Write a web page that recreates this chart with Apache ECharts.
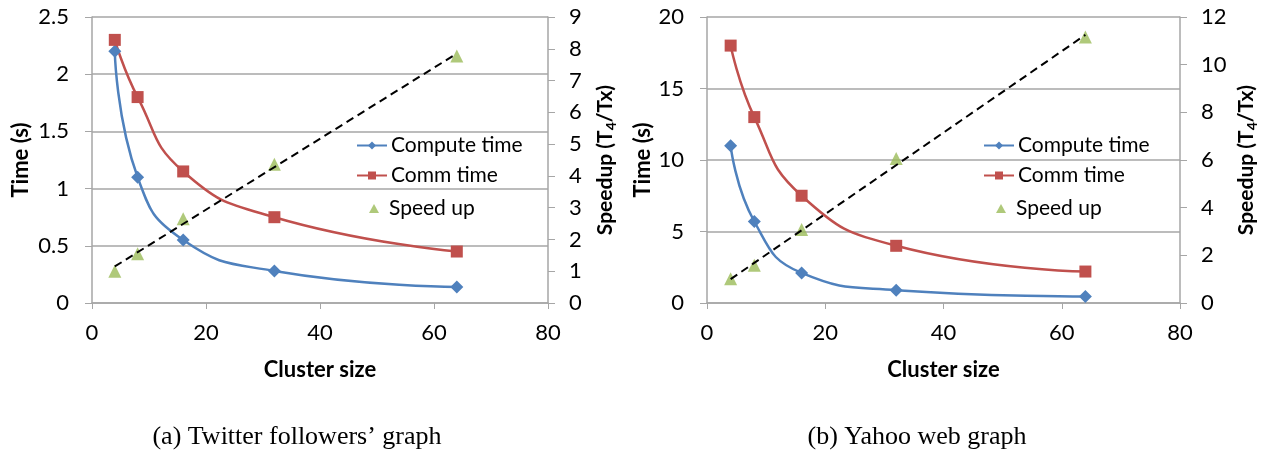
<!DOCTYPE html>
<html>
<head>
<meta charset="utf-8">
<script src="https://cdn.jsdelivr.net/npm/echarts@6/dist/echarts.min.js"></script>
<style>
  html, body { margin: 0; padding: 0; background: #fff; }
  #main { width: 1264px; height: 451px; }
</style>
</head>
<body>
<div id="main"></div>
<script>
// cluster sizes (x)
var clusterSizes = [4, 8, 16, 32, 64];

// (a) Twitter followers' graph
var twComputeTime = [2.2, 1.1, 0.55, 0.28, 0.14];
var twCommTime = [2.3, 1.8, 1.15, 0.75, 0.45];
var twSpeedup = [1.0, 1.55, 2.65, 4.37, 7.77];
var twTrendX = [4, 64];
var twTrend = [1.15, 7.85];

// (b) Yahoo web graph
var yhComputeTime = [11, 5.7, 2.1, 0.9, 0.45];
var yhCommTime = [18, 13, 7.5, 4, 2.2];
var yhSpeedup = [1.02, 1.58, 3.08, 6.06, 11.16];
var yhTrendX = [4, 64];
var yhTrend = [1.0, 11.25];

var captions = ["(a) Twitter followers\u2019 graph", "(b) Yahoo web graph"];

var FONT = 'Lato';
var AXIS_COLOR = '#a6a6a6';
var BLUE = '#4f81bd', RED = '#c0504d', GREEN = '#9bbb59';

function pairs(xs, ys) {
  return xs.map(function (x, i) { return [x, ys[i]]; });
}

function xAxisOpt(idx) {
  return {
    type: 'value', gridIndex: idx, min: 0, max: 80, interval: 20,
    name: 'Cluster size', nameLocation: 'middle', nameGap: 56,
    nameTextStyle: { fontFamily: FONT, fontWeight: 'bold', fontSize: 22, color: '#000' },
    axisLine: { lineStyle: { color: AXIS_COLOR, width: 1.5 } },
    axisTick: { show: true, length: 6, lineStyle: { color: AXIS_COLOR } },
    axisLabel: { fontFamily: FONT, fontSize: 22, color: '#000', margin: 19 },
    splitLine: { show: false }
  };
}

function yLeftOpt(idx, max, interval, gap) {
  return {
    type: 'value', gridIndex: idx, position: 'left', min: 0, max: max, interval: interval,
    name: 'Time (s)', nameLocation: 'middle', nameGap: gap, nameRotate: 90,
    nameTextStyle: { fontFamily: FONT, fontWeight: 'bold', fontSize: 22, color: '#000' },
    axisLine: { show: true, lineStyle: { color: AXIS_COLOR, width: 1.5 } },
    axisTick: { show: true, length: 7, lineStyle: { color: AXIS_COLOR } },
    axisLabel: { fontFamily: FONT, fontSize: 22, color: '#000', margin: 23 },
    splitLine: { show: true, lineStyle: { color: AXIS_COLOR, width: 1.5 } }
  };
}

function yRightOpt(idx, max, interval, gap) {
  return {
    type: 'value', gridIndex: idx, position: 'right', min: 0, max: max, interval: interval,
    name: '{a|Speedup (T}{s|4}{a|/Tx)}', nameLocation: 'middle', nameGap: gap, nameRotate: 90,
    nameTextStyle: {
      rich: {
        a: { fontFamily: FONT, fontWeight: 'bold', fontSize: 21, color: '#000' },
        s: { fontFamily: FONT, fontWeight: 'bold', fontSize: 14, color: '#000', verticalAlign: 'bottom', padding: [11, 0, 0, 0] }
      }
    },
    axisLine: { show: true, lineStyle: { color: AXIS_COLOR, width: 1.5 } },
    axisTick: { show: true, length: 7, lineStyle: { color: AXIS_COLOR } },
    axisLabel: { fontFamily: FONT, fontSize: 22, color: '#000', margin: 21 },
    splitLine: { show: false }
  };
}

function seriesFor(idx, compute, comm, speed, trendX, trend) {
  return [
    {
      name: 'Compute time', type: 'line', xAxisIndex: idx, yAxisIndex: idx * 2,
      data: pairs(clusterSizes, compute), smooth: 0.5,
      symbol: 'diamond', symbolSize: 13,
      lineStyle: { color: BLUE, width: 2.5 }, itemStyle: { color: BLUE }, z: 4
    },
    {
      name: 'Comm time', type: 'line', xAxisIndex: idx, yAxisIndex: idx * 2,
      data: pairs(clusterSizes, comm), smooth: 0.5,
      symbol: 'rect', symbolSize: 12,
      lineStyle: { color: RED, width: 2.5 }, itemStyle: { color: RED }, z: 4
    },
    {
      name: 'Speed up', type: 'scatter', xAxisIndex: idx, yAxisIndex: idx * 2 + 1,
      data: pairs(clusterSizes, speed),
      symbol: 'triangle', symbolSize: 13, itemStyle: { color: GREEN }, z: 3
    },
    {
      name: 'trend', type: 'line', xAxisIndex: idx, yAxisIndex: idx * 2 + 1,
      data: pairs(trendX, trend), symbol: 'none', silent: true,
      lineStyle: { color: '#000', width: 2, type: [8, 5] }, z: 5
    }
  ];
}

function legendLines(left) {
  return {
    left: left, top: 130, orient: 'vertical', itemGap: 9,
    itemWidth: 30, itemHeight: 10,
    data: ['Compute time', 'Comm time'],
    textStyle: { fontFamily: FONT, fontSize: 21, color: '#000', padding: [0, 0, 0, -1] },
    selectedMode: false
  };
}

function legendSpeed(left) {
  return {
    left: left, top: 193, orient: 'vertical',
    itemWidth: 10, itemHeight: 9,
    data: ['Speed up'],
    textStyle: { fontFamily: FONT, fontSize: 21, color: '#000', padding: [0, 0, 0, 5] },
    selectedMode: false
  };
}

var chart = echarts.init(document.getElementById('main'));
var option = {
  animation: false,
  backgroundColor: '#fff',
  grid: [
    { left: 92, right: 716, top: 17, bottom: 148 },
    { left: 707, right: 84, top: 17, bottom: 148 }
  ],
  xAxis: [xAxisOpt(0), xAxisOpt(1)],
  yAxis: [
    yLeftOpt(0, 2.5, 0.5, 60), yRightOpt(0, 9, 1, 45),
    yLeftOpt(1, 20, 5, 53), yRightOpt(1, 12, 2, 54)
  ],
  legend: [legendLines(351), legendSpeed(364), legendLines(978), legendSpeed(991)],
  title: [
    { text: captions[0], left: 292, top: 419, textAlign: 'center',
      textStyle: { fontFamily: 'Liberation Serif', fontWeight: 'normal', fontSize: 26, color: '#000' } },
    { text: captions[1], left: 912, top: 419, textAlign: 'center',
      textStyle: { fontFamily: 'Liberation Serif', fontWeight: 'normal', fontSize: 26, color: '#000' } }
  ],
  series: seriesFor(0, twComputeTime, twCommTime, twSpeedup, twTrendX, twTrend)
    .concat(seriesFor(1, yhComputeTime, yhCommTime, yhSpeedup, yhTrendX, yhTrend))
};
chart.setOption(option);
</script>
</body>
</html>
